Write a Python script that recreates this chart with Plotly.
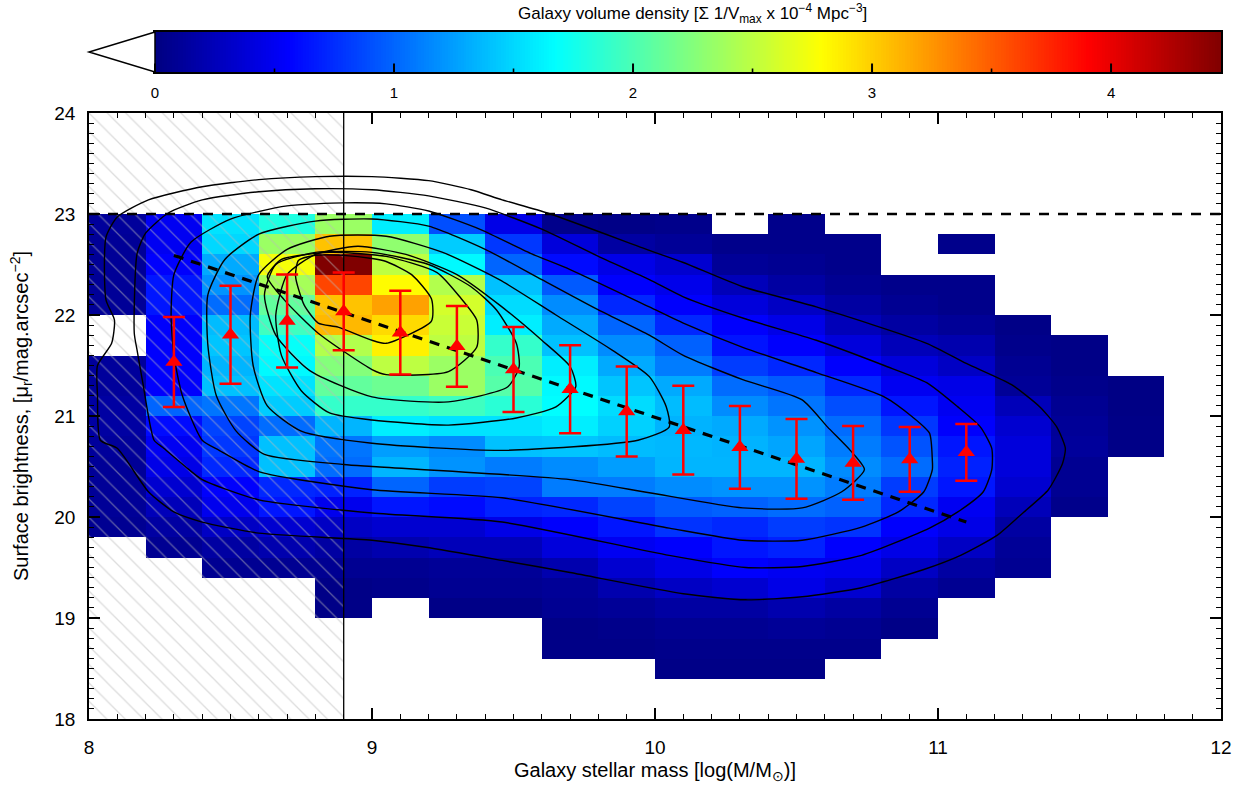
import numpy as np
import plotly.graph_objects as go

# ---- binned galaxy volume density (rows listed from bright-limit 22.9 down to 18.5) ----
mass_centres = [8.1, 8.3, 8.5, 8.7, 8.9, 9.1, 9.3, 9.5, 9.7, 9.9,
                10.1, 10.3, 10.5, 10.7, 10.9, 11.1, 11.3, 11.5, 11.7, 11.9]
sb_centres_top_down = [22.9, 22.7, 22.5, 22.3, 22.1, 21.9, 21.7, 21.5, 21.3, 21.1, 20.9, 20.7,
                       20.5, 20.3, 20.1, 19.9, 19.7, 19.5, 19.3, 19.1, 18.9, 18.7, 18.5]
N = None
density_top_down = [
    [0.12, 0.50, 1.55, 1.80, 2.35, 1.60, 0.90, 0.45, 0.05, 0.03, 0.05, N, 0.05, N, N, N, N, N, N, N],
    [0.10, 0.50, 1.50, 2.35, 3.05, 2.30, 1.45, 0.80, 0.40, 0.15, 0.10, 0.05, 0.05, 0.05, N, 0.05, N, N, N, N],
    [0.10, 0.55, 1.30, 2.75, 4.46, 2.50, 1.65, 1.00, 0.60, 0.45, 0.35, 0.10, 0.08, 0.05, N, N, N, N, N, N],
    [0.10, 0.65, 1.20, 2.40, 3.60, 2.80, 2.45, 1.40, 0.95, 0.55, 0.47, 0.25, 0.15, 0.08, 0.05, 0.05, N, N, N, N],
    [0.10, 0.65, 1.03, 2.10, 3.05, 3.20, 2.60, 1.52, 1.17, 0.73, 0.55, 0.40, 0.30, 0.15, 0.08, 0.05, N, N, N, N],
    [N, 0.55, 1.38, 1.95, 3.10, 2.95, 2.55, 1.60, 1.30, 1.00, 0.73, 0.55, 0.45, 0.25, 0.15, 0.10, 0.03, N, N, N],
    [N, 0.55, 1.42, 1.70, 2.45, 2.85, 2.50, 1.90, 1.40, 1.17, 0.98, 0.64, 0.55, 0.40, 0.25, 0.20, 0.05, 0.03, N, N],
    [0.12, 0.55, 1.35, 1.65, 2.25, 2.50, 2.35, 2.00, 1.60, 1.30, 1.10, 0.82, 0.73, 0.55, 0.40, 0.30, 0.08, 0.03, N, N],
    [0.12, 0.55, 1.40, 1.55, 2.10, 2.15, 2.35, 2.05, 1.65, 1.42, 1.30, 1.03, 0.95, 0.73, 0.50, 0.45, 0.10, 0.05, 0.02, N],
    [0.15, 1.00, 1.07, 1.45, 1.90, 1.90, 1.95, 1.85, 1.67, 1.52, 1.38, 1.17, 1.07, 0.90, 0.65, 0.50, 0.25, 0.08, 0.02, N],
    [0.15, 0.60, 0.85, 1.03, 1.35, 1.60, 1.55, 1.55, 1.60, 1.47, 1.34, 1.30, 1.20, 1.03, 0.80, 0.55, 0.35, 0.10, 0.03, N],
    [0.12, 0.50, 0.80, 1.40, 1.07, 1.25, 1.17, 1.40, 1.42, 1.38, 1.36, 1.34, 1.28, 1.10, 0.92, 0.65, 0.40, 0.12, 0.03, N],
    [0.10, 0.45, 0.73, 1.40, 1.03, 1.35, 1.20, 1.10, 1.17, 1.25, 1.35, 1.35, 1.35, 1.17, 1.03, 0.70, 0.40, 0.08, N, N],
    [0.10, 0.35, 0.55, 0.73, 0.70, 1.00, 0.82, 0.85, 1.10, 1.10, 1.17, 1.20, 1.20, 1.10, 0.82, 0.65, 0.35, 0.08, N, N],
    [0.10, 0.25, 0.48, 0.65, 0.48, 0.65, 0.60, 0.70, 0.73, 0.85, 0.95, 0.98, 1.03, 0.98, 0.73, 0.50, 0.25, 0.05, N, N],
    [0.08, 0.15, 0.30, 0.35, 0.30, 0.35, 0.35, 0.45, 0.55, 0.65, 0.78, 0.73, 0.82, 0.78, 0.55, 0.45, 0.15, N, N, N],
    [N, 0.08, 0.15, 0.20, 0.15, 0.20, 0.25, 0.25, 0.40, 0.50, 0.55, 0.65, 0.70, 0.55, 0.45, 0.30, 0.10, N, N, N],
    [N, N, 0.08, 0.08, 0.08, 0.08, 0.10, 0.10, 0.20, 0.35, 0.45, 0.55, 0.50, 0.48, 0.30, 0.15, 0.08, N, N, N],
    [N, N, N, N, 0.03, 0.05, 0.08, 0.08, 0.10, 0.20, 0.30, 0.35, 0.45, 0.35, 0.15, 0.08, N, N, N, N],
    [N, N, N, N, 0.03, N, 0.03, 0.03, 0.08, 0.10, 0.15, 0.15, 0.20, 0.15, 0.08, N, N, N, N, N],
    [N, N, N, N, N, N, N, N, 0.03, 0.05, 0.08, 0.08, 0.10, 0.08, 0.03, N, N, N, N, N],
    [N, N, N, N, N, N, N, N, 0.03, 0.03, 0.05, 0.05, 0.05, 0.05, N, N, N, N, N, N],
    [N, N, N, N, N, N, N, N, N, N, 0.03, 0.03, 0.03, N, N, N, N, N, N, N],
]
density_max = 4.46
density_ticks = [0, 1, 2, 3, 4]
density_minor_ticks = [0.5, 1.5, 2.5, 3.5]

# ---- iso-density contours (mass, surface brightness), outermost first ----
contour_levels = [
    [(8.04, 20.76), (8.03, 21.2), (8.03, 21.5), (8.08, 21.72), (8.09, 21.95), (8.06, 22.15), (8.06, 22.77),
     (8.10, 22.97), (8.21, 23.14), (8.4, 23.27), (8.6, 23.34), (8.8, 23.37), (9.0, 23.37), (9.2, 23.33),
     (9.35, 23.24), (9.46, 23.14), (9.62, 23.01), (9.98, 22.64), (10.10, 22.52), (10.31, 22.28),
     (10.57, 22.08), (10.96, 21.72), (11.10, 21.52), (11.26, 21.31), (11.36, 21.09), (11.42, 20.89),
     (11.45, 20.68), (11.44, 20.53), (11.39, 20.27), (11.30, 20.04), (11.21, 19.82), (11.08, 19.62),
     (10.95, 19.48), (10.73, 19.30), (10.52, 19.21), (10.32, 19.18), (10.10, 19.24), (9.70, 19.45),
     (9.46, 19.57), (9.19, 19.70), (9.0, 19.77), (8.60, 19.84), (8.40, 19.95), (8.30, 20.05),
     (8.21, 20.25), (8.10, 20.68), (8.04, 20.76)],
    [(8.23, 20.76), (8.19, 21.33), (8.17, 21.65), (8.16, 21.82), (8.17, 22.61), (8.20, 22.81), (8.28, 23.01),
     (8.40, 23.14), (8.6, 23.22), (8.8, 23.25), (9.0, 23.24), (9.2, 23.18), (9.4, 23.06), (9.6, 22.85),
     (9.80, 22.58), (9.98, 22.35), (10.10, 22.18), (10.31, 21.97), (10.57, 21.75), (10.81, 21.50),
     (10.96, 21.33), (11.07, 21.09), (11.15, 20.89), (11.19, 20.68), (11.19, 20.47), (11.16, 20.25),
     (11.07, 20.05), (10.97, 19.89), (10.73, 19.62), (10.52, 19.51), (10.32, 19.50), (10.05, 19.62),
     (9.46, 19.95), (9.0, 20.04), (8.60, 20.17), (8.40, 20.37), (8.34, 20.50), (8.26, 20.69), (8.23, 20.76)],
    [(8.40, 20.76), (8.33, 21.2), (8.30, 21.6), (8.29, 22.0), (8.30, 22.4), (8.36, 22.72), (8.5, 22.95),
     (8.7, 23.08), (8.9, 23.11), (9.05, 23.1), (9.20, 23.03), (9.38, 22.85), (9.56, 22.61), (9.70, 22.45),
     (9.98, 22.08), (10.10, 21.92), (10.31, 21.68), (10.57, 21.43), (10.81, 21.19), (10.91, 20.99),
     (10.97, 20.83), (10.98, 20.56), (10.98, 20.47), (10.95, 20.25), (10.86, 20.05), (10.73, 19.90),
     (10.52, 19.77), (10.31, 19.77), (10.05, 19.89), (9.46, 20.19), (9.0, 20.27), (8.60, 20.45),
     (8.46, 20.66), (8.40, 20.76)],
    [(9.0, 20.50), (9.70, 20.37), (9.98, 20.24), (10.31, 20.09), (10.52, 20.09), (10.66, 20.25), (10.74, 20.47),
     (10.69, 20.66), (10.61, 20.89), (10.52, 21.16), (10.31, 21.36), (10.10, 21.60), (9.98, 21.80),
     (9.8, 22.05), (9.6, 22.35), (9.4, 22.65), (9.2, 22.88), (9.0, 22.95), (8.8, 22.93), (8.6, 22.8),
     (8.48, 22.55), (8.42, 22.2), (8.42, 21.7), (8.45, 21.2), (8.52, 20.85), (8.62, 20.62), (8.90, 20.52),
     (9.0, 20.50)],
    [(9.0, 20.73), (9.46, 20.66), (9.94, 20.76), (10.05, 20.89), (10.04, 21.09), (9.98, 21.39), (9.85, 21.65),
     (9.65, 22.0), (9.45, 22.35), (9.25, 22.62), (9.05, 22.78), (8.85, 22.78), (8.7, 22.65), (8.6, 22.4),
     (8.57, 22.0), (8.58, 21.5), (8.63, 21.1), (8.75, 20.85), (9.0, 20.73)],
    [(9.0, 20.96), (9.27, 20.91), (9.51, 20.98), (9.65, 21.09), (9.72, 21.29), (9.70, 21.49), (9.6, 21.75),
     (9.45, 22.1), (9.3, 22.4), (9.12, 22.6), (8.95, 22.68), (8.8, 22.6), (8.7, 22.4), (8.66, 22.0),
     (8.68, 21.6), (8.75, 21.25), (8.85, 21.03), (9.0, 20.96)],
    [(9.0, 21.19), (9.27, 21.14), (9.48, 21.29), (9.52, 21.49), (9.51, 21.72), (9.44, 22.05), (9.35, 22.28),
     (9.2, 22.5), (9.0, 22.62), (8.8, 22.62), (8.66, 22.5), (8.62, 22.2), (8.66, 21.8), (8.78, 21.45),
     (9.0, 21.19)],
    [(9.0, 21.46), (9.05, 21.41), (9.27, 21.44), (9.37, 21.68), (9.37, 21.95), (9.31, 22.18), (9.23, 22.42),
     (9.05, 22.58), (8.85, 22.62), (8.68, 22.55), (8.63, 22.38), (8.69, 22.15), (8.81, 21.82), (9.0, 21.46)],
    [(8.74, 22.54), (8.80, 22.59), (8.90, 22.59), (9.0, 22.56), (9.05, 22.53), (9.14, 22.40), (9.21, 22.16),
     (9.21, 21.94), (9.05, 21.72), (9.0, 21.75), (8.88, 21.88), (8.81, 21.92), (8.76, 22.1), (8.73, 22.38),
     (8.74, 22.54)],
]

# ---- median surface brightness per mass bin ----
bin_mass = [8.3, 8.5, 8.7, 8.9, 9.1, 9.3, 9.5, 9.7, 9.9, 10.1, 10.3, 10.5, 10.7, 10.9, 11.1]
bin_sb = [21.535, 21.805, 21.94, 22.035, 21.825, 21.69, 21.46, 21.265, 21.045, 20.86, 20.69, 20.575,
          20.535, 20.57, 20.64]
bin_sb_err = [0.445, 0.485, 0.46, 0.385, 0.415, 0.40, 0.42, 0.435, 0.445, 0.44, 0.41, 0.395, 0.365,
              0.32, 0.28]

# linear fit through the medians
fit_mass = [8.3, 11.1]
fit_sb = [22.59, 19.95]

# completeness limits
mass_limit = 8.9
sb_limit = 23.0
mass_range = [8.0, 12.0]
sb_range = [18.0, 24.0]

jet = [[0.0, "rgb(0,0,128)"], [0.125, "rgb(0,0,255)"], [0.375, "rgb(0,255,255)"],
       [0.625, "rgb(255,255,0)"], [0.875, "rgb(255,0,0)"], [1.0, "rgb(128,0,0)"]]

FONT = "Liberation Sans, Arial, Helvetica, sans-serif"
W, H = 1253, 794
ML, MR, MT, MB = 89, 32, 10, 75
PW, PH = W - ML - MR, H - MT - MB


def px_to_paper(px, py):
    return (px - ML) / PW, (H - MB - py) / PH


main_top = px_to_paper(0, 113)[1]
bar_left = px_to_paper(155, 0)[0]
bar_bottom = px_to_paper(0, 72)[1]
bar_top = px_to_paper(0, 32)[1]

fig = go.Figure()

fig.add_trace(go.Heatmap(
    x=mass_centres,
    y=sb_centres_top_down[::-1],
    z=density_top_down[::-1],
    colorscale=jet, zmin=0, zmax=density_max,
    hoverongaps=False, showscale=False,
))

# hatched incompleteness region
fig.add_trace(go.Scatter(
    x=[mass_range[0], mass_limit, mass_limit, mass_range[0], mass_range[0]],
    y=[sb_range[0], sb_range[0], sb_range[1], sb_range[1], sb_range[0]],
    mode="none", fill="toself", fillcolor="rgba(0,0,0,0)",
    fillpattern=dict(shape="\\", fgcolor="rgb(185,185,185)", bgcolor="rgba(0,0,0,0)",
                     size=13, solidity=0.1),
    hoverinfo="skip", showlegend=False,
))

for path in contour_levels:
    fig.add_trace(go.Scatter(
        x=[p[0] for p in path], y=[p[1] for p in path], mode="lines",
        line=dict(color="black", width=1.4, shape="spline", smoothing=0.6),
        hoverinfo="skip", showlegend=False,
    ))

fig.add_trace(go.Scatter(x=[mass_limit, mass_limit], y=sb_range, mode="lines",
                         line=dict(color="black", width=1.3), showlegend=False, hoverinfo="skip"))
fig.add_trace(go.Scatter(x=mass_range, y=[sb_limit, sb_limit], mode="lines",
                         line=dict(color="black", width=2.6, dash="10px,9px"),
                         showlegend=False, hoverinfo="skip"))
fig.add_trace(go.Scatter(x=fit_mass, y=fit_sb, mode="lines",
                         line=dict(color="black", width=3.2, dash="10px,8px"),
                         showlegend=False, hoverinfo="skip"))

fig.add_trace(go.Scatter(
    x=bin_mass, y=bin_sb, mode="markers",
    marker=dict(symbol="triangle-up", size=15, color="red", line=dict(width=0)),
    error_y=dict(type="data", array=bin_sb_err, color="red", thickness=2.5, width=11),
    showlegend=False,
))

# colour bar drawn as its own strip axis
bar_levels = np.linspace(0, density_max, 400)
fig.add_trace(go.Heatmap(
    x=bar_levels, y=[0], z=[bar_levels], colorscale=jet, zmin=0, zmax=density_max,
    showscale=False, hoverinfo="skip", xaxis="x2", yaxis="y2",
))

# extension arrow at the low end of the colour bar
ax0, ay0 = px_to_paper(155, 32)
ax1, ay1 = px_to_paper(89, 52)
ax2, ay2 = px_to_paper(155, 72)
shapes = [dict(type="path", xref="paper", yref="paper",
               path=f"M {ax0},{ay0} L {ax1},{ay1} L {ax2},{ay2} Z",
               fillcolor="white", line=dict(color="black", width=1.5))]

tx, ty = px_to_paper(692, 14)
annotations = [dict(
    text="Galaxy volume density [Σ 1/V<sub>max</sub> x 10<sup>−4</sup> Mpc<sup>−3</sup>]",
    xref="paper", yref="paper", x=tx, y=ty, xanchor="center", yanchor="middle",
    showarrow=False, font=dict(family=FONT, size=17, color="black"),
)]

# inward tick marks along the bottom edge of the colour bar (drawn as plain arrow lines)
for vals, length, width in [(density_ticks, 10, 2.0), (density_minor_ticks, 5, 1.6)]:
    for v in vals:
        annotations.append(dict(
            x=v, xref="x2", y=bar_bottom, yref="paper", text="", showarrow=True,
            arrowhead=0, arrowwidth=width, arrowcolor="black", ax=0, ay=-length,
            standoff=0, startstandoff=0,
        ))

axis_common = dict(
    showgrid=False, zeroline=False, showline=True, linecolor="black", linewidth=1.5,
    mirror="ticks", ticks="inside", ticklen=11, tickwidth=1.5, tickcolor="black",
    minor=dict(ticks="inside", ticklen=5, tickwidth=1.2, tickcolor="black", dtick=0.1),
    tickfont=dict(family=FONT, size=19, color="black"),
)

fig.update_layout(
    width=W, height=H,
    margin=dict(l=ML, r=MR, t=MT, b=MB, autoexpand=False),
    paper_bgcolor="white", plot_bgcolor="white",
    showlegend=False,
    shapes=shapes, annotations=annotations,
    xaxis=dict(range=mass_range, tickvals=[8, 9, 10, 11, 12], ticklabelstandoff=10,
               domain=[0, 1], anchor="y",
               title=dict(text="Galaxy stellar mass [log(M/M<sub>⊙</sub>)]",
                          font=dict(family=FONT, size=20, color="black"), standoff=6),
               **axis_common),
    yaxis=dict(range=sb_range, tickvals=[18, 19, 20, 21, 22, 23, 24], ticklabelstandoff=8,
               domain=[0, main_top], anchor="x",
               title=dict(text="Surface brightness, [μ<sub>r</sub>/mag.arcsec<sup>−2</sup>]",
                          font=dict(family=FONT, size=20, color="black"), standoff=20),
               **axis_common),
    xaxis2=dict(domain=[bar_left, 1], anchor="y2", range=[0, density_max],
                tickvals=density_ticks, ticks="", showline=True, linecolor="black", linewidth=1.5,
                mirror=True, showgrid=False, zeroline=False, ticklabelstandoff=6,
                tickfont=dict(family=FONT, size=15, color="black")),
    yaxis2=dict(domain=[bar_bottom, bar_top], anchor="x2", range=[-0.5, 0.5],
                showticklabels=False, ticks="", showline=True, linecolor="black", linewidth=1.5,
                mirror=True, showgrid=False, zeroline=False),
)

fig.write_html("out.html")
